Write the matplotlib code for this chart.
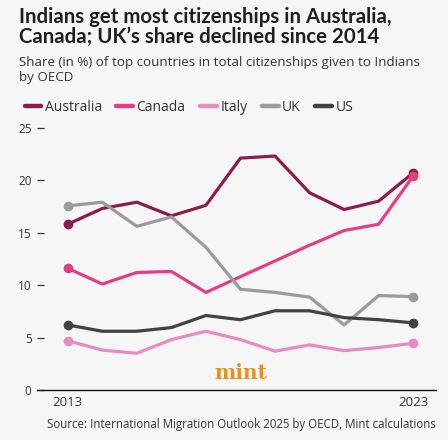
import matplotlib.pyplot as plt
from matplotlib.lines import Line2D

years = list(range(2013, 2024))
australia = [15.8, 17.3, 17.9, 16.6, 17.6, 22.1, 22.3, 18.8, 17.2, 18.0, 20.7]
canada = [11.6, 10.1, 11.2, 11.3, 9.3, 10.8, 12.3, 13.8, 15.2, 15.8, 20.4]
italy = [4.7, 3.8, 3.5, 4.8, 5.6, 4.8, 3.7, 4.3, 3.75, 4.05, 4.45]
uk = [17.55, 17.9, 15.6, 16.5, 13.6, 9.6, 9.3, 8.85, 6.2, 9.0, 8.9]
us = [6.2, 5.6, 5.6, 5.95, 7.1, 6.7, 7.55, 7.55, 6.9, 6.7, 6.4]

series = [
    ("Australia", australia, "#8b1c4b"),
    ("Canada", canada, "#e23f82"),
    ("Italy", italy, "#e78bc3"),
    ("UK", uk, "#9b9b9b"),
    ("US", us, "#424242"),
]
yticks = [0, 5, 10, 15, 20, 25]

bg = "#f6f6f6"
W, H = 448, 440
fig = plt.figure(figsize=(W / 100, H / 100), dpi=100, facecolor=bg)

# title / subtitle
fig.text(19 / W, 1 - 7 / H, "Indians get most citizenships in Australia,\nCanada; UK\u2019s share declined since 2014",
         fontsize=14.7, fontweight="bold", family="Lato", color="#1e1e1e",
         va="top", ha="left", linespacing=0.98)
fig.text(19 / W, 1 - 56 / H, "Share (in %) of top countries in total citizenships given to Indians\nby OECD",
         fontsize=9.6, family="Open Sans", color="#333333", va="top", ha="left", linespacing=1.2)

# axes area
ax = fig.add_axes([37 / W, 50 / H, 399 / W, 262.3 / H])
ax.set_facecolor(bg)
for name, vals, col in series:
    ax.plot(years, vals, color=col, lw=2.3, solid_joinstyle="round", solid_capstyle="round")
    ax.plot([years[0], years[-1]], [vals[0], vals[-1]], "o", color=col, ms=6)

ax.set_xlim(2012.11, 2023.66)
ax.set_ylim(0, 25)
for s in ["top", "right", "left"]:
    ax.spines[s].set_visible(False)
ax.spines["bottom"].set_color("#111111")
ax.spines["bottom"].set_linewidth(1.0)
ax.set_yticks(yticks)
ax.set_yticklabels([str(t) for t in yticks], family="Open Sans", fontsize=8.5, color="#333333")
ax.tick_params(axis="y", direction="in", length=5, width=0.9, pad=4, color="#333333")
ax.set_xticks([2013, 2023])
ax.set_xticklabels(["2013", "2023"], family="Open Sans", fontsize=9.5, color="#333333")
ax.tick_params(axis="x", length=0, pad=4)

# legend
handles = [Line2D([0], [0], color=col, lw=3.2, solid_capstyle="round") for _, _, col in series]
fig.legend(handles, [s[0] for s in series], loc="upper left", bbox_to_anchor=(12 / W, 1 - 87 / H),
           ncol=5, frameon=False, handlelength=1.2, handletextpad=0.25, columnspacing=1.05,
           prop={"family": "Open Sans", "size": 10}, labelcolor="#333333")

# logo and source
ax.text(2018.0, 1.6, "mint", fontsize=14.5, fontweight="bold", family="DejaVu Serif",
        color="#e8901c", ha="center", va="center")
fig.text(436 / W, 1 - 424 / H, "Source: International Migration Outlook 2025 by OECD, Mint calculations",
         fontsize=8.3, family="Open Sans", color="#333333", ha="right", va="center")

fig.savefig("out.png", dpi=100, facecolor=bg)
